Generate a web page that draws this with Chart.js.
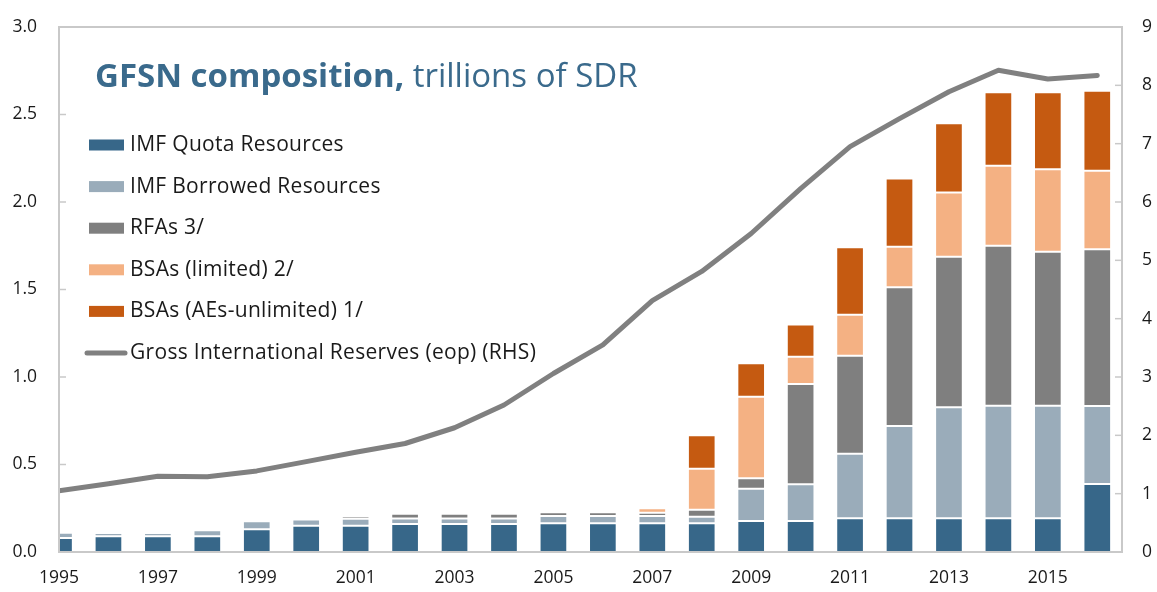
<!DOCTYPE html>
<html><head><meta charset="utf-8">
<script src="https://cdn.jsdelivr.net/npm/chart.js@4.4.1/dist/chart.umd.min.js"></script>
<style>html,body{margin:0;padding:0;background:#fff}#wrap{width:1157px;height:592px;position:relative}</style>
</head><body><div id="wrap"><canvas id="c" width="1157" height="592"></canvas></div>
<script>
const years = [1995,1996,1997,1998,1999,2000,2001,2002,2003,2004,2005,2006,2007,2008,2009,2010,2011,2012,2013,2014,2015,2016];
const imfQuota      = [0.080,0.090,0.090,0.090,0.130,0.150,0.150,0.160,0.160,0.160,0.165,0.165,0.165,0.165,0.177,0.177,0.193,0.193,0.193,0.193,0.193,0.389];
const imfBorrowed   = [0.030,0.018,0.018,0.035,0.046,0.036,0.040,0.032,0.032,0.032,0.041,0.041,0.041,0.037,0.185,0.210,0.369,0.527,0.634,0.643,0.643,0.445];
const rfas          = [0.006,0,0,0,0,0,0.015,0.027,0.027,0.027,0.021,0.021,0.019,0.040,0.059,0.573,0.560,0.793,0.860,0.914,0.880,0.896];
const bsaLimited    = [0,0,0,0,0,0,0,0,0,0,0,0,0.025,0.234,0.466,0.156,0.234,0.232,0.368,0.457,0.471,0.449];
const bsaUnlimited  = [0,0,0,0,0,0,0,0,0,0,0,0,0,0.191,0.191,0.184,0.385,0.390,0.395,0.420,0.440,0.457];
const grossReserves = [1.05,1.17,1.30,1.29,1.39,1.55,1.71,1.86,2.13,2.52,3.06,3.55,4.31,4.81,5.46,6.23,6.95,7.43,7.89,8.26,8.11,8.17];
const xTickLabels = [1995,1997,1999,2001,2003,2005,2007,2009,2011,2013,2015];
const leftTicks = [0,0.5,1.0,1.5,2.0,2.5,3.0];
const rightTicks = [0,1,2,3,4,5,6,7,8,9];
const seriesLabels = ['IMF Quota Resources','IMF Borrowed Resources','RFAs 3/','BSAs (limited) 2/','BSAs (AEs-unlimited) 1/','Gross International Reserves (eop) (RHS)'];
const seriesColors = ['#376789','#9aacba','#7f7f7f','#f4b183','#c55a11','#808080'];

const FONT = '"Open Sans", Lato, sans-serif';
const pts = arr => years.map((y,i)=>({x:y,y:arr[i]}));
const barDs = (arr,i) => ({type:'bar',label:seriesLabels[i],data:pts(arr),backgroundColor:seriesColors[i],
  borderColor:'rgba(255,255,255,0.9)',borderWidth:1,borderSkipped:false,yAxisID:'y',stack:'s',order:1,
  categoryPercentage:0.7,barPercentage:0.8});

const decor = {
  id:'decor',
  afterDraw(chart){
    const ctx = chart.ctx, a = chart.chartArea;
    ctx.save();
    ctx.strokeStyle = '#c9c9c9'; ctx.lineWidth = 2;
    ctx.strokeRect(a.left, a.top, a.right-a.left, a.bottom-a.top);
    ctx.lineWidth = 1.5; ctx.strokeStyle = '#c9c9c9';
    const ys = chart.scales.y, yr = chart.scales.y1;
    leftTicks.forEach(v=>{const p=ys.getPixelForValue(v); ctx.beginPath(); ctx.moveTo(a.left,p); ctx.lineTo(a.left+7,p); ctx.stroke();});
    rightTicks.forEach(v=>{const p=yr.getPixelForValue(v); ctx.beginPath(); ctx.moveTo(a.right,p); ctx.lineTo(a.right-7,p); ctx.stroke();});
    ctx.textBaseline = 'alphabetic'; ctx.textAlign='left';
    ctx.fillStyle = '#3a6a8c';
    ctx.font = 'bold 33px ' + FONT;
    const t1 = 'GFSN composition,';
    ctx.fillText(t1, 95, 87);
    const w1 = ctx.measureText(t1).width;
    ctx.font = '33px ' + FONT;
    ctx.fillText(' trillions of SDR', 95 + w1, 87);
    ctx.font = '21px ' + FONT; ctx.textBaseline='middle';
    if ('letterSpacing' in ctx) ctx.letterSpacing = '0.3px';
    chart.data.datasets.forEach((ds,i)=>{
      const cy = 145 + i*41.6;
      if (ds.type === 'line') {
        ctx.strokeStyle = ds.borderColor; ctx.lineWidth = 5; ctx.lineCap='round';
        ctx.beginPath(); ctx.moveTo(87,cy); ctx.lineTo(125,cy); ctx.stroke();
      } else {
        ctx.fillStyle = ds.backgroundColor; ctx.fillRect(89, cy-5.5, 35, 11);
      }
      ctx.fillStyle = '#1a1a1a';
      ctx.fillText(ds.label, 130, cy);
    });
    ctx.restore();
  }
};

new Chart(document.getElementById('c'), {
  data:{datasets:[
    barDs(imfQuota,0), barDs(imfBorrowed,1), barDs(rfas,2), barDs(bsaLimited,3), barDs(bsaUnlimited,4),
    {type:'line',label:seriesLabels[5],data:pts(grossReserves),borderColor:seriesColors[5],borderWidth:5,
     pointRadius:0,tension:0,yAxisID:'y1',order:0,borderCapStyle:'round',borderJoinStyle:'round'}
  ]},
  options:{
    responsive:false, animation:false,
    layout:{padding:{top:27,left:0,right:0,bottom:0}},
    plugins:{legend:{display:false},tooltip:{enabled:false}},
    scales:{
      x:{type:'linear',min:1995,max:2016.5,offset:false,
        grid:{display:false,offset:false}, border:{display:false},
        afterBuildTicks:s=>{s.ticks = xTickLabels.map(v=>({value:v}));},
        afterFit:s=>{s.height=40;},
        ticks:{callback:v=>String(v),font:{family:FONT,size:17.5},color:'#1a1a1a',padding:8,maxRotation:0,autoSkip:false}},
      y:{type:'linear',position:'left',min:0,max:3,stacked:true,
        grid:{display:false}, border:{display:false},
        afterBuildTicks:s=>{s.ticks = leftTicks.map(v=>({value:v}));},
        afterFit:s=>{s.width=59;},
        ticks:{callback:v=>v.toFixed(1),font:{family:FONT,size:17.5},color:'#1a1a1a',padding:14}},
      y1:{type:'linear',position:'right',min:0,max:9,
        grid:{display:false}, border:{display:false},
        afterBuildTicks:s=>{s.ticks = rightTicks.map(v=>({value:v}));},
        afterFit:s=>{s.width=35;},
        ticks:{callback:v=>String(v),font:{family:FONT,size:17.5},color:'#1a1a1a',padding:12}}
    }
  },
  plugins:[decor]
});
</script></body></html>
